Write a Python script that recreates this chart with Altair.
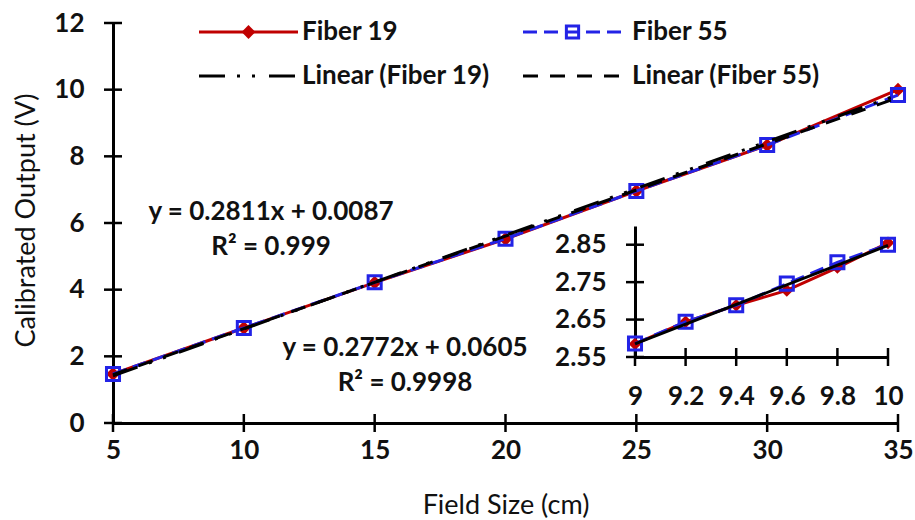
import altair as alt
import pandas as pd

# ---- measured calibrated output vs field size ----
field_size = [5, 10, 15, 20, 25, 30, 35]
fiber19 = [1.47, 2.85, 4.21, 5.52, 6.96, 8.33, 10.0]
fiber55 = [1.47, 2.85, 4.22, 5.53, 6.96, 8.34, 9.84]

# linear trend fits: (slope, intercept, R^2)
fit19 = (0.2811, 0.0087, 0.999)
fit55 = (0.2772, 0.0605, 0.9998)

# ---- zoomed detail between 9 and 10 cm ----
inset_x = [9.0, 9.2, 9.4, 9.6, 9.8, 10.0]
inset19 = [2.585, 2.644, 2.688, 2.728, 2.789, 2.855]
inset55 = [2.586, 2.644, 2.688, 2.746, 2.803, 2.850]
inset_trend_x = [9.0, 10.0]
inset_trend_y = [2.585, 2.848]

x_ticks = [5, 10, 15, 20, 25, 30, 35]
y_ticks = [0, 2, 4, 6, 8, 10, 12]
inset_x_ticks = [9.0, 9.2, 9.4, 9.6, 9.8, 10.0]
inset_y_ticks = [2.55, 2.65, 2.75, 2.85]

FONT = "Lato"
INK = "#111111"
RED = "#C00000"
BLUE = "#2323E6"
W, H = 785, 400

DASH_F55 = [14, 7]
DASH_T19 = [26, 12, 3, 12, 3, 14]
DASH_T55 = [15, 12]

df19 = pd.DataFrame({"x": field_size, "y": fiber19})
df55 = pd.DataFrame({"x": field_size, "y": fiber55})


def trend(fit):
    a, b, _ = fit
    xs = [field_size[0], field_size[-1]]
    return pd.DataFrame({"x": xs, "y": [a * v + b for v in xs]})


one = pd.DataFrame({"k": [0]})

# ---- main panel ----
mx = alt.X(
    "x:Q",
    scale=alt.Scale(domain=[5, 35], nice=False, zero=False),
    axis=alt.Axis(
        values=x_ticks, format="d", grid=False, ticks=False, labelFlush=False,
        domainColor="black", domainWidth=3,
        labelFont=FONT, labelFontSize=26, labelFontWeight="bold", labelColor=INK,
        labelPadding=14,
        title="Field Size (cm)", titleFont=FONT, titleFontSize=27,
        titleFontWeight="normal", titleColor=INK, titleY=82,
        titleBaseline="middle",
    ),
)
my = alt.Y(
    "y:Q",
    scale=alt.Scale(domain=[0, 12], nice=False),
    axis=alt.Axis(
        values=y_ticks, format="d", grid=False, ticks=False, labelFlush=False,
        domainColor="black", domainWidth=3,
        labelFont=FONT, labelFontSize=26, labelFontWeight="bold", labelColor=INK,
        labelPadding=29,
        title="Calibrated Output (V)", titleFont=FONT, titleFontSize=27,
        titleFontWeight="normal", titleColor=INK, titleAngle=-90,
        titleX=-87, titleY=197, titleAlign="center", titleBaseline="middle",
    ),
)

x_tick_marks = alt.Chart(pd.DataFrame({"x": x_ticks})).mark_rule(
    color="black", strokeWidth=2.5
).encode(x=mx, y=alt.value(H - 9), y2=alt.value(H + 9))
y_tick_marks = alt.Chart(pd.DataFrame({"y": y_ticks})).mark_rule(
    color="black", strokeWidth=2.5
).encode(y=my, x=alt.value(-9), x2=alt.value(9))

line19 = alt.Chart(df19).mark_line(color=RED, strokeWidth=3).encode(x=mx, y=my)
pts19 = alt.Chart(df19).mark_point(
    shape="diamond", filled=True, size=190, color=RED, opacity=1
).encode(x=mx, y=my)
line55 = alt.Chart(df55).mark_line(
    color=BLUE, strokeWidth=3, strokeDash=DASH_F55
).encode(x=mx, y=my)
pts55 = alt.Chart(df55).mark_point(
    shape="square", filled=False, size=170, strokeWidth=3, color=BLUE, opacity=1
).encode(x=mx, y=my)
tr19 = alt.Chart(trend(fit19)).mark_line(
    color="black", strokeWidth=3, strokeDash=DASH_T19
).encode(x=mx, y=my)
tr55 = alt.Chart(trend(fit55)).mark_line(
    color="black", strokeWidth=3, strokeDash=DASH_T55
).encode(x=mx, y=my)


def label(text, x, y, align="center", size=26, weight="bold"):
    return alt.Chart(one).mark_text(
        font=FONT, fontSize=size, fontWeight=weight, color=INK,
        align=align, baseline="middle",
    ).encode(x=alt.value(x), y=alt.value(y), text=alt.value(text))


eq19 = label(f"y = {fit19[0]}x + {fit19[1]}", 158, 189)
r19 = label(f"R² = {fit19[2]}", 158, 224)
eq55 = label(f"y = {fit55[0]}x + {fit55[1]}", 292, 325)
r55 = label(f"R² = {fit55[2]}", 292, 360)

# ---- legend (two columns, two rows) ----
ROW1, ROW2 = 9, 53
COL1, COL2 = 86, 410
SAMPLE = 99
TEXT_GAP = 4


def sample(x0, y, color, dash=None):
    kw = dict(color=color, strokeWidth=3)
    if dash:
        kw["strokeDash"] = dash
    return alt.Chart(one).mark_rule(**kw).encode(
        x=alt.value(x0), x2=alt.value(x0 + SAMPLE), y=alt.value(y)
    )


def marker(x, y, **kw):
    return alt.Chart(one).mark_point(opacity=1, **kw).encode(
        x=alt.value(x), y=alt.value(y)
    )


legend = [
    sample(COL1, ROW1, RED),
    marker(COL1 + SAMPLE / 2, ROW1, shape="diamond", filled=True, size=190, color=RED),
    label("Fiber 19", COL1 + SAMPLE + TEXT_GAP, ROW1, align="left"),
    sample(COL2, ROW1, BLUE, DASH_F55),
    marker(COL2 + SAMPLE / 2, ROW1, shape="square", filled=False, size=150,
           strokeWidth=3, color=BLUE),
    label("Fiber 55", COL2 + SAMPLE + 10, ROW1, align="left"),
    sample(COL1, ROW2, "black", DASH_T19),
    label("Linear (Fiber 19)", COL1 + SAMPLE + TEXT_GAP, ROW2, align="left"),
    sample(COL2, ROW2, "black", DASH_T55),
    label("Linear (Fiber 55)", COL2 + SAMPLE + 10, ROW2, align="left"),
]

main = alt.layer(
    line19, pts19, line55, pts55, tr19, tr55,
    x_tick_marks, y_tick_marks,
    eq19, r19, eq55, r55, *legend,
)

# ---- inset panel (own scales, placed inside the plot area) ----
IX0, IX1 = 522, 775
IY0, IY1 = 334, 203

ix = alt.X(
    "x:Q",
    scale=alt.Scale(domain=[9, 10], range=[IX0, IX1], nice=False, zero=False),
    axis=alt.Axis(
        orient="bottom", offset=-(H - IY0), values=inset_x_ticks, format=".1~f",
        grid=False, ticks=False, labelFlush=False,
        domainColor="black", domainWidth=3,
        labelFont=FONT, labelFontSize=26, labelFontWeight="bold", labelColor=INK,
        labelPadding=26, title=None,
    ),
)
iy = alt.Y(
    "y:Q",
    scale=alt.Scale(domain=[2.55, 2.9], range=[IY0, IY1], nice=False, zero=False),
    axis=alt.Axis(
        orient="left", offset=-IX0, values=inset_y_ticks, format=".2f",
        grid=False, ticks=False, labelFlush=False,
        domainColor="black", domainWidth=3,
        labelFont=FONT, labelFontSize=26, labelFontWeight="bold", labelColor=INK,
        labelPadding=29, title=None,
    ),
)

di19 = pd.DataFrame({"x": inset_x, "y": inset19})
di55 = pd.DataFrame({"x": inset_x, "y": inset55})
dit = pd.DataFrame({"x": inset_trend_x, "y": inset_trend_y})

inset = alt.layer(
    alt.Chart(pd.DataFrame({"x": inset_x_ticks})).mark_rule(
        color="black", strokeWidth=2.5
    ).encode(x=ix, y=alt.value(IY0 - 9), y2=alt.value(IY0 + 9)),
    alt.Chart(pd.DataFrame({"y": inset_y_ticks})).mark_rule(
        color="black", strokeWidth=2.5
    ).encode(y=iy, x=alt.value(IX0 - 9), x2=alt.value(IX0 + 9)),
    alt.Chart(di19).mark_line(color=RED, strokeWidth=3).encode(x=ix, y=iy),
    alt.Chart(di19).mark_point(
        shape="diamond", filled=True, size=160, color=RED, opacity=1
    ).encode(x=ix, y=iy),
    alt.Chart(di55).mark_line(
        color=BLUE, strokeWidth=3, strokeDash=DASH_F55
    ).encode(x=ix, y=iy),
    alt.Chart(di55).mark_point(
        shape="square", filled=False, size=170, strokeWidth=3, color=BLUE, opacity=1
    ).encode(x=ix, y=iy),
    alt.Chart(dit).mark_line(color="black", strokeWidth=3).encode(x=ix, y=iy),
)

chart = (
    alt.layer(main, inset)
    .resolve_scale(x="independent", y="independent")
    .properties(
        width=W, height=H,
        autosize=alt.AutoSizeParams(type="none"),
        padding={"left": 113, "top": 23, "right": 17, "bottom": 97},
        background="white",
    )
    .configure_view(stroke=None)
)

chart.save("out.html", embed_options={"renderer": "svg", "actions": False})
